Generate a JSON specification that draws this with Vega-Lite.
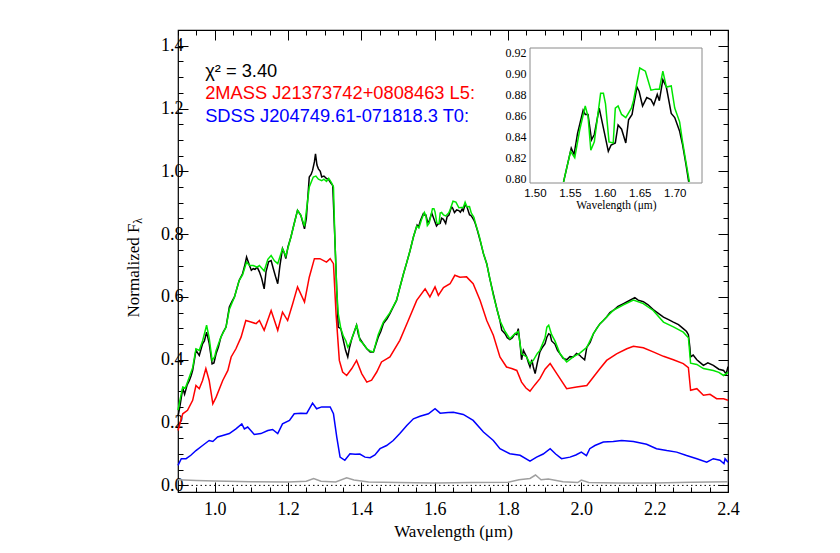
{
"$schema": "https://vega.github.io/schema/vega-lite/v6.json",
"width": 550, "height": 462,
"autosize": {"type": "none"},
"padding": {"left": 178, "top": 30, "right": 112, "bottom": 61},
"background": "white",
"config": {
  "view": {"stroke": "black", "strokeWidth": 1.2},
  "axis": {"grid": false, "domain": false, "labelFont": "Liberation Serif", "labelFontSize": 18, "titleFont": "Liberation Serif", "titleFontSize": 17, "titleFontWeight": "normal", "labelColor": "black", "titleColor": "black", "tickColor": "black", "tickWidth": 1, "labelFlush": false, "labelOverlap": false, "labelBound": false}
},
"datasets": {
"black": [
{"w":0.900,"f":0.22},{"w":0.905,"f":0.25},{"w":0.913,"f":0.31},{"w":0.918,"f":0.29},{"w":0.925,"f":0.32},{"w":0.931,"f":0.334},{"w":0.936,"f":0.35},{"w":0.940,"f":0.366},{"w":0.949,"f":0.43},{"w":0.958,"f":0.414},{"w":0.967,"f":0.451},{"w":0.972,"f":0.46},{"w":0.978,"f":0.488},{"w":0.985,"f":0.452},{"w":0.993,"f":0.387},{"w":0.998,"f":0.39},{"w":1.004,"f":0.42},{"w":1.010,"f":0.44},{"w":1.017,"f":0.472},{"w":1.024,"f":0.49},{"w":1.031,"f":0.504},{"w":1.040,"f":0.568},{"w":1.047,"f":0.585},{"w":1.054,"f":0.6},{"w":1.060,"f":0.625},{"w":1.067,"f":0.653},{"w":1.076,"f":0.674},{"w":1.082,"f":0.7},{"w":1.087,"f":0.727},{"w":1.095,"f":0.7},{"w":1.100,"f":0.685},{"w":1.105,"f":0.69},{"w":1.110,"f":0.688},{"w":1.116,"f":0.695},{"w":1.122,"f":0.68},{"w":1.128,"f":0.66},{"w":1.135,"f":0.626},{"w":1.140,"f":0.68},{"w":1.147,"f":0.712},{"w":1.154,"f":0.716},{"w":1.160,"f":0.69},{"w":1.166,"f":0.665},{"w":1.172,"f":0.642},{"w":1.178,"f":0.7},{"w":1.185,"f":0.754},{"w":1.190,"f":0.74},{"w":1.194,"f":0.722},{"w":1.200,"f":0.76},{"w":1.208,"f":0.791},{"w":1.216,"f":0.83},{"w":1.226,"f":0.876},{"w":1.235,"f":0.86},{"w":1.245,"f":0.817},{"w":1.250,"f":0.85},{"w":1.258,"f":0.982},{"w":1.263,"f":0.99},{"w":1.267,"f":1.003},{"w":1.272,"f":1.03},{"w":1.275,"f":1.056},{"w":1.279,"f":1.02},{"w":1.283,"f":1.008},{"w":1.288,"f":1.0},{"w":1.292,"f":0.982},{"w":1.298,"f":0.985},{"w":1.305,"f":0.977},{"w":1.310,"f":0.975},{"w":1.315,"f":0.966},{"w":1.322,"f":0.955},{"w":1.328,"f":0.78},{"w":1.333,"f":0.62},{"w":1.337,"f":0.504},{"w":1.344,"f":0.499},{"w":1.351,"f":0.462},{"w":1.357,"f":0.43},{"w":1.363,"f":0.409},{"w":1.368,"f":0.44},{"w":1.374,"f":0.467},{"w":1.381,"f":0.49},{"w":1.387,"f":0.51},{"w":1.392,"f":0.48},{"w":1.396,"f":0.467},{"w":1.405,"f":0.451},{"w":1.415,"f":0.435},{"w":1.424,"f":0.425},{"w":1.433,"f":0.425},{"w":1.440,"f":0.45},{"w":1.446,"f":0.472},{"w":1.453,"f":0.49},{"w":1.460,"f":0.515},{"w":1.470,"f":0.53},{"w":1.478,"f":0.547},{"w":1.487,"f":0.568},{"w":1.496,"f":0.589},{"w":1.505,"f":0.63},{"w":1.515,"f":0.674},{"w":1.524,"f":0.71},{"w":1.533,"f":0.748},{"w":1.542,"f":0.791},
{"w":1.552,"f":0.829},{"w":1.556,"f":0.823},{"w":1.561,"f":0.843},{"w":1.569,"f":0.865},{"w":1.572,"f":0.861},{"w":1.576,"f":0.861},{"w":1.581,"f":0.837},{"w":1.585,"f":0.842},{"w":1.592,"f":0.867},{"w":1.599,"f":0.845},{"w":1.605,"f":0.826},{"w":1.609,"f":0.832},{"w":1.615,"f":0.834},{"w":1.619,"f":0.851},{"w":1.624,"f":0.847},{"w":1.630,"f":0.834},{"w":1.634,"f":0.856},{"w":1.639,"f":0.861},{"w":1.641,"f":0.869},{"w":1.646,"f":0.887},{"w":1.649,"f":0.883},{"w":1.654,"f":0.869},{"w":1.660,"f":0.877},{"w":1.666,"f":0.875},{"w":1.670,"f":0.87},{"w":1.675,"f":0.88},{"w":1.678,"f":0.874},{"w":1.683,"f":0.894},{"w":1.688,"f":0.887},{"w":1.695,"f":0.862},{"w":1.700,"f":0.858},{"w":1.707,"f":0.845},{"w":1.711,"f":0.833},{"w":1.716,"f":0.814},{"w":1.720,"f":0.797},{"w":1.724,"f":0.78},{"w":1.733,"f":0.738},{"w":1.742,"f":0.706},{"w":1.750,"f":0.66},{"w":1.760,"f":0.61},{"w":1.770,"f":0.56},{"w":1.778,"f":0.525},{"w":1.783,"f":0.494},{"w":1.792,"f":0.483},{"w":1.798,"f":0.47},{"w":1.805,"f":0.464},{"w":1.812,"f":0.47},{"w":1.819,"f":0.483},{"w":1.824,"f":0.48},{"w":1.828,"f":0.499},{"w":1.833,"f":0.45},{"w":1.837,"f":0.4},{"w":1.842,"f":0.43},{"w":1.851,"f":0.409},{"w":1.856,"f":0.39},{"w":1.860,"f":0.377},{"w":1.865,"f":0.4},{"w":1.869,"f":0.377},{"w":1.874,"f":0.356},{"w":1.880,"f":0.39},{"w":1.887,"f":0.425},{"w":1.894,"f":0.44},{"w":1.901,"f":0.451},{"w":1.906,"f":0.472},{"w":1.911,"f":0.483},{"w":1.915,"f":0.48},{"w":1.919,"f":0.46},{"w":1.928,"f":0.45},{"w":1.935,"f":0.43},{"w":1.942,"f":0.419},{"w":1.950,"f":0.405},{"w":1.960,"f":0.4},{"w":1.969,"f":0.41},{"w":1.978,"f":0.409},{"w":1.987,"f":0.42},{"w":1.995,"f":0.415},{"w":2.000,"f":0.409},{"w":2.009,"f":0.4},{"w":2.015,"f":0.44},{"w":2.024,"f":0.455},{"w":2.033,"f":0.483},{"w":2.042,"f":0.5},{"w":2.051,"f":0.515},{"w":2.060,"f":0.525},{"w":2.069,"f":0.536},{"w":2.078,"f":0.55},{"w":2.087,"f":0.557},{"w":2.100,"f":0.57},{"w":2.115,"f":0.579},{"w":2.130,"f":0.588},{"w":2.146,"f":0.598},{"w":2.155,"f":0.59},{"w":2.169,"f":0.585},{"w":2.182,"f":0.575},{"w":2.196,"f":0.56},{"w":2.210,"f":0.548},{"w":2.224,"f":0.536},{"w":2.238,"f":0.528},{"w":2.251,"f":0.52},{"w":2.265,"f":0.512},{"w":2.278,"f":0.499},{"w":2.287,"f":0.49},{"w":2.292,"f":0.48},{"w":2.296,"f":0.44},{"w":2.298,"f":0.409},{"w":2.305,"f":0.415},{"w":2.315,"f":0.4},{"w":2.325,"f":0.39},{"w":2.333,"f":0.382},{"w":2.345,"f":0.39},{"w":2.360,"f":0.382},{"w":2.375,"f":0.37},{"w":2.388,"f":0.366},{"w":2.395,"f":0.355},{"w":2.400,"f":0.378}
],
"green": [
{"w":0.900,"f":0.24},{"w":0.905,"f":0.27},{"w":0.913,"f":0.313},{"w":0.920,"f":0.31},{"w":0.931,"f":0.345},{"w":0.940,"f":0.375},{"w":0.949,"f":0.435},{"w":0.958,"f":0.43},{"w":0.967,"f":0.46},{"w":0.978,"f":0.51},{"w":0.985,"f":0.47},{"w":0.993,"f":0.398},{"w":1.000,"f":0.41},{"w":1.004,"f":0.43},{"w":1.017,"f":0.472},{"w":1.031,"f":0.504},{"w":1.040,"f":0.56},{"w":1.054,"f":0.6},{"w":1.067,"f":0.653},{"w":1.076,"f":0.67},{"w":1.087,"f":0.711},{"w":1.095,"f":0.7},{"w":1.105,"f":0.7},{"w":1.116,"f":0.695},{"w":1.122,"f":0.7},{"w":1.135,"f":0.683},{"w":1.145,"f":0.72},{"w":1.154,"f":0.732},{"w":1.163,"f":0.715},{"w":1.172,"f":0.706},{"w":1.185,"f":0.754},{"w":1.194,"f":0.73},{"w":1.208,"f":0.791},{"w":1.226,"f":0.876},{"w":1.235,"f":0.86},{"w":1.245,"f":0.825},{"w":1.258,"f":0.95},{"w":1.269,"f":0.982},{"w":1.276,"f":0.985},{"w":1.283,"f":0.975},{"w":1.292,"f":0.97},{"w":1.298,"f":0.975},{"w":1.305,"f":0.968},{"w":1.311,"f":0.978},{"w":1.318,"f":0.965},{"w":1.324,"f":0.95},{"w":1.328,"f":0.78},{"w":1.333,"f":0.62},{"w":1.337,"f":0.547},{"w":1.344,"f":0.5},{"w":1.351,"f":0.475},{"w":1.358,"f":0.46},{"w":1.363,"f":0.44},{"w":1.368,"f":0.45},{"w":1.374,"f":0.467},{"w":1.387,"f":0.51},{"w":1.392,"f":0.49},{"w":1.396,"f":0.462},{"w":1.405,"f":0.451},{"w":1.415,"f":0.435},{"w":1.424,"f":0.428},{"w":1.433,"f":0.425},{"w":1.446,"f":0.48},{"w":1.460,"f":0.52},{"w":1.478,"f":0.55},{"w":1.496,"f":0.59},{"w":1.515,"f":0.674},{"w":1.533,"f":0.748},{"w":1.542,"f":0.791},{"w":1.551,"f":0.826},{"w":1.557,"f":0.82},{"w":1.564,"f":0.846},{"w":1.572,"f":0.869},{"w":1.576,"f":0.859},{"w":1.580,"f":0.827},{"w":1.585,"f":0.835},{"w":1.594,"f":0.881},{"w":1.598,"f":0.881},{"w":1.601,"f":0.871},{"w":1.606,"f":0.835},{"w":1.612,"f":0.834},{"w":1.615,"f":0.867},{"w":1.619,"f":0.869},{"w":1.624,"f":0.861},{"w":1.630,"f":0.858},{"w":1.638,"f":0.867},{"w":1.641,"f":0.874},{"w":1.650,"f":0.905},{"w":1.658,"f":0.902},{"w":1.666,"f":0.884},{"w":1.673,"f":0.885},{"w":1.678,"f":0.885},{"w":1.683,"f":0.902},{"w":1.688,"f":0.887},{"w":1.695,"f":0.888},{"w":1.700,"f":0.867},{"w":1.707,"f":0.854},{"w":1.711,"f":0.836},{"w":1.716,"f":0.816},{"w":1.721,"f":0.797},{"w":1.733,"f":0.738},{"w":1.742,"f":0.706},{"w":1.760,"f":0.605},{"w":1.778,"f":0.525},{"w":1.792,"f":0.49},{"w":1.805,"f":0.467},{"w":1.819,"f":0.483},{"w":1.828,"f":0.49},{"w":1.837,"f":0.419},{"w":1.851,"f":0.409},{"w":1.860,"f":0.387},{"w":1.869,"f":0.398},{"w":1.880,"f":0.42},{"w":1.887,"f":0.43},{"w":1.901,"f":0.47},{"w":1.906,"f":0.504},{"w":1.911,"f":0.51},{"w":1.919,"f":0.48},{"w":1.928,"f":0.46},{"w":1.942,"f":0.419},{"w":1.960,"f":0.393},{"w":1.978,"f":0.409},{"w":1.995,"f":0.42},{"w":2.000,"f":0.425},{"w":2.015,"f":0.44},{"w":2.033,"f":0.483},{"w":2.051,"f":0.515},{"w":2.069,"f":0.536},{"w":2.087,"f":0.557},{"w":2.115,"f":0.575},{"w":2.142,"f":0.59},{"w":2.169,"f":0.579},{"w":2.196,"f":0.557},{"w":2.224,"f":0.52},{"w":2.251,"f":0.505},{"w":2.278,"f":0.488},{"w":2.292,"f":0.47},{"w":2.298,"f":0.389},{"w":2.315,"f":0.385},{"w":2.333,"f":0.372},{"w":2.360,"f":0.366},{"w":2.375,"f":0.36},{"w":2.388,"f":0.35},{"w":2.400,"f":0.36}
],
"red": [
{"w":0.900,"f":0.175},{"w":0.913,"f":0.228},{"w":0.926,"f":0.239},{"w":0.940,"f":0.271},{"w":0.949,"f":0.318},{"w":0.958,"f":0.308},{"w":0.967,"f":0.334},{"w":0.976,"f":0.372},{"w":0.985,"f":0.334},{"w":0.995,"f":0.26},{"w":1.004,"f":0.281},{"w":1.022,"f":0.334},{"w":1.036,"f":0.366},{"w":1.045,"f":0.409},{"w":1.058,"f":0.435},{"w":1.072,"f":0.472},{"w":1.085,"f":0.525},{"w":1.099,"f":0.52},{"w":1.113,"f":0.515},{"w":1.122,"f":0.525},{"w":1.135,"f":0.494},{"w":1.154,"f":0.557},{"w":1.172,"f":0.494},{"w":1.185,"f":0.552},{"w":1.199,"f":0.525},{"w":1.213,"f":0.579},{"w":1.226,"f":0.632},{"w":1.245,"f":0.584},{"w":1.258,"f":0.663},{"w":1.272,"f":0.722},{"w":1.287,"f":0.722},{"w":1.305,"f":0.711},{"w":1.315,"f":0.722},{"w":1.324,"f":0.706},{"w":1.331,"f":0.547},{"w":1.340,"f":0.398},{"w":1.349,"f":0.361},{"w":1.360,"f":0.35},{"w":1.374,"f":0.372},{"w":1.387,"f":0.398},{"w":1.401,"f":0.356},{"w":1.415,"f":0.329},{"w":1.428,"f":0.335},{"w":1.442,"f":0.361},{"w":1.455,"f":0.393},{"w":1.478,"f":0.409},{"w":1.505,"f":0.462},{"w":1.528,"f":0.525},{"w":1.551,"f":0.589},{"w":1.574,"f":0.626},{"w":1.587,"f":0.6},{"w":1.601,"f":0.632},{"w":1.610,"f":0.605},{"w":1.624,"f":0.63},{"w":1.642,"f":0.642},{"w":1.655,"f":0.669},{"w":1.669,"f":0.663},{"w":1.687,"f":0.664},{"w":1.705,"f":0.642},{"w":1.724,"f":0.589},{"w":1.742,"f":0.525},{"w":1.760,"f":0.478},{"w":1.778,"f":0.409},{"w":1.796,"f":0.377},{"w":1.810,"f":0.372},{"w":1.824,"f":0.366},{"w":1.837,"f":0.329},{"w":1.849,"f":0.31},{"w":1.860,"f":0.3},{"w":1.873,"f":0.32},{"w":1.887,"f":0.34},{"w":1.901,"f":0.37},{"w":1.915,"f":0.388},{"w":1.933,"f":0.356},{"w":1.960,"f":0.308},{"w":1.987,"f":0.313},{"w":2.015,"f":0.318},{"w":2.033,"f":0.345},{"w":2.051,"f":0.372},{"w":2.069,"f":0.398},{"w":2.096,"f":0.419},{"w":2.124,"f":0.435},{"w":2.142,"f":0.443},{"w":2.169,"f":0.438},{"w":2.196,"f":0.425},{"w":2.224,"f":0.411},{"w":2.251,"f":0.4},{"w":2.278,"f":0.388},{"w":2.292,"f":0.375},{"w":2.298,"f":0.303},{"w":2.315,"f":0.308},{"w":2.333,"f":0.287},{"w":2.351,"f":0.29},{"w":2.369,"f":0.276},{"w":2.388,"f":0.276},{"w":2.400,"f":0.271}
],
"blue": [
{"w":0.900,"f":0.064},{"w":0.909,"f":0.085},{"w":0.922,"f":0.085},{"w":0.935,"f":0.096},{"w":0.949,"f":0.111},{"w":0.967,"f":0.127},{"w":0.985,"f":0.143},{"w":0.995,"f":0.14},{"w":1.008,"f":0.154},{"w":1.022,"f":0.159},{"w":1.040,"f":0.165},{"w":1.058,"f":0.18},{"w":1.074,"f":0.196},{"w":1.081,"f":0.18},{"w":1.090,"f":0.186},{"w":1.108,"f":0.162},{"w":1.126,"f":0.165},{"w":1.145,"f":0.175},{"w":1.158,"f":0.178},{"w":1.172,"f":0.165},{"w":1.185,"f":0.196},{"w":1.204,"f":0.207},{"w":1.217,"f":0.228},{"w":1.235,"f":0.23},{"w":1.251,"f":0.229},{"w":1.267,"f":0.262},{"w":1.278,"f":0.244},{"w":1.292,"f":0.25},{"w":1.315,"f":0.25},{"w":1.324,"f":0.228},{"w":1.333,"f":0.154},{"w":1.342,"f":0.09},{"w":1.355,"f":0.08},{"w":1.369,"f":0.101},{"w":1.383,"f":0.099},{"w":1.396,"f":0.1},{"w":1.410,"f":0.09},{"w":1.424,"f":0.088},{"w":1.437,"f":0.097},{"w":1.451,"f":0.117},{"w":1.469,"f":0.127},{"w":1.487,"f":0.143},{"w":1.505,"f":0.165},{"w":1.524,"f":0.191},{"w":1.542,"f":0.212},{"w":1.560,"f":0.22},{"w":1.583,"f":0.228},{"w":1.601,"f":0.244},{"w":1.615,"f":0.23},{"w":1.637,"f":0.232},{"w":1.651,"f":0.233},{"w":1.678,"f":0.226},{"w":1.705,"f":0.207},{"w":1.733,"f":0.17},{"w":1.760,"f":0.143},{"w":1.778,"f":0.117},{"w":1.805,"f":0.101},{"w":1.833,"f":0.096},{"w":1.860,"f":0.077},{"w":1.878,"f":0.09},{"w":1.896,"f":0.1},{"w":1.915,"f":0.117},{"w":1.930,"f":0.1},{"w":1.946,"f":0.085},{"w":1.969,"f":0.09},{"w":1.985,"f":0.097},{"w":2.000,"f":0.106},{"w":2.014,"f":0.095},{"w":2.023,"f":0.117},{"w":2.037,"f":0.127},{"w":2.060,"f":0.138},{"w":2.087,"f":0.14},{"w":2.110,"f":0.143},{"w":2.142,"f":0.14},{"w":2.178,"f":0.131},{"w":2.205,"f":0.117},{"w":2.233,"f":0.111},{"w":2.260,"f":0.106},{"w":2.287,"f":0.095},{"w":2.315,"f":0.085},{"w":2.342,"f":0.074},{"w":2.360,"f":0.085},{"w":2.378,"f":0.08},{"w":2.389,"f":0.069},{"w":2.392,"f":0.085},{"w":2.400,"f":0.074}
],
"gray": [
{"w":0.900,"f":0.018},{"w":0.950,"f":0.016},{"w":1.000,"f":0.014},{"w":1.100,"f":0.012},{"w":1.200,"f":0.011},{"w":1.250,"f":0.013},{"w":1.270,"f":0.022},{"w":1.290,"f":0.013},{"w":1.330,"f":0.011},{"w":1.360,"f":0.024},{"w":1.380,"f":0.017},{"w":1.420,"f":0.011},{"w":1.500,"f":0.009},{"w":1.600,"f":0.008},{"w":1.700,"f":0.009},{"w":1.800,"f":0.01},{"w":1.830,"f":0.018},{"w":1.860,"f":0.022},{"w":1.875,"f":0.033},{"w":1.890,"f":0.018},{"w":1.910,"f":0.02},{"w":1.950,"f":0.012},{"w":1.990,"f":0.009},{"w":2.000,"f":0.017},{"w":2.020,"f":0.009},{"w":2.100,"f":0.008},{"w":2.200,"f":0.008},{"w":2.300,"f":0.01},{"w":2.400,"f":0.012}
],
"iblack": [
{"w":1.541,"f":0.797},{"w":1.552,"f":0.829},{"w":1.556,"f":0.823},{"w":1.561,"f":0.843},{"w":1.569,"f":0.865},{"w":1.572,"f":0.861},{"w":1.576,"f":0.861},{"w":1.581,"f":0.837},{"w":1.585,"f":0.842},{"w":1.592,"f":0.867},{"w":1.599,"f":0.845},{"w":1.605,"f":0.826},{"w":1.609,"f":0.832},{"w":1.615,"f":0.834},{"w":1.619,"f":0.851},{"w":1.624,"f":0.847},{"w":1.630,"f":0.834},{"w":1.634,"f":0.856},{"w":1.639,"f":0.861},{"w":1.641,"f":0.869},{"w":1.646,"f":0.887},{"w":1.649,"f":0.883},{"w":1.654,"f":0.869},{"w":1.660,"f":0.877},{"w":1.666,"f":0.875},{"w":1.670,"f":0.87},{"w":1.675,"f":0.88},{"w":1.678,"f":0.874},{"w":1.683,"f":0.894},{"w":1.688,"f":0.887},{"w":1.695,"f":0.862},{"w":1.700,"f":0.858},{"w":1.707,"f":0.845},{"w":1.711,"f":0.833},{"w":1.716,"f":0.814},{"w":1.720,"f":0.797}
],
"igreen": [
{"w":1.541,"f":0.797},{"w":1.551,"f":0.826},{"w":1.557,"f":0.82},{"w":1.564,"f":0.846},{"w":1.572,"f":0.869},{"w":1.576,"f":0.859},{"w":1.580,"f":0.827},{"w":1.585,"f":0.835},{"w":1.594,"f":0.881},{"w":1.598,"f":0.881},{"w":1.601,"f":0.871},{"w":1.606,"f":0.835},{"w":1.612,"f":0.834},{"w":1.615,"f":0.867},{"w":1.619,"f":0.869},{"w":1.624,"f":0.861},{"w":1.630,"f":0.858},{"w":1.638,"f":0.867},{"w":1.641,"f":0.874},{"w":1.650,"f":0.905},{"w":1.658,"f":0.902},{"w":1.666,"f":0.884},{"w":1.673,"f":0.885},{"w":1.678,"f":0.885},{"w":1.683,"f":0.902},{"w":1.688,"f":0.887},{"w":1.695,"f":0.888},{"w":1.700,"f":0.867},{"w":1.707,"f":0.854},{"w":1.711,"f":0.836},{"w":1.716,"f":0.816},{"w":1.721,"f":0.797}
]
},
"resolve": {"scale": {"x": "independent", "y": "independent"}, "axis": {"x": "independent", "y": "independent"}},
"layer": [
{
  "layer": [
    {"data": {"name": "gray"}, "mark": {"type": "line", "stroke": "#a0a0a0", "strokeWidth": 1.5},
     "encoding": {
      "x": {"field": "w", "type": "quantitative", "scale": {"domain": [0.9, 2.4], "nice": false, "zero": false}, "axis": null},
      "y": {"field": "f", "type": "quantitative", "scale": {"domain": [-0.021, 1.45], "nice": false, "zero": false}, "axis": null}
     }},
    {"data": {"name": "black"}, "mark": {"type": "line", "stroke": "#000000", "strokeWidth": 1.5},
     "encoding": {"x": {"field": "w", "type": "quantitative", "axis": null}, "y": {"field": "f", "type": "quantitative", "axis": null}}},
    {"data": {"name": "green"}, "mark": {"type": "line", "stroke": "#00e600", "strokeWidth": 1.5},
     "encoding": {"x": {"field": "w", "type": "quantitative", "axis": null}, "y": {"field": "f", "type": "quantitative", "axis": null}}},
    {"data": {"name": "red"}, "mark": {"type": "line", "stroke": "#ff0000", "strokeWidth": 1.5},
     "encoding": {"x": {"field": "w", "type": "quantitative", "axis": null}, "y": {"field": "f", "type": "quantitative", "axis": null}}},
    {"data": {"name": "blue"}, "mark": {"type": "line", "stroke": "#0000ff", "strokeWidth": 1.5},
     "encoding": {"x": {"field": "w", "type": "quantitative", "axis": null}, "y": {"field": "f", "type": "quantitative", "axis": null}}},
    {"data": {"values": [{}]}, "mark": {"type": "text", "align": "left", "baseline": "alphabetic", "font": "Liberation Sans", "fontSize": 18.3, "color": "black"},
      "encoding": {"x": {"datum": 0.974, "type": "quantitative", "axis": null}, "y": {"datum": 1.3, "type": "quantitative", "axis": null}, "text": {"value": "χ² = 3.40"}}},
    {"data": {"values": [{}]}, "mark": {"type": "text", "align": "left", "baseline": "alphabetic", "font": "Liberation Sans", "fontSize": 18.3, "color": "#ff0000"},
      "encoding": {"x": {"datum": 0.974, "type": "quantitative", "axis": null}, "y": {"datum": 1.229, "type": "quantitative", "axis": null}, "text": {"value": "2MASS J21373742+0808463 L5:"}}},
    {"data": {"values": [{}]}, "mark": {"type": "text", "align": "left", "baseline": "alphabetic", "font": "Liberation Sans", "fontSize": 18.3, "color": "#0000ff"},
      "encoding": {"x": {"datum": 0.974, "type": "quantitative", "axis": null}, "y": {"datum": 1.157, "type": "quantitative", "axis": null}, "text": {"value": "SDSS J204749.61-071818.3 T0:"}}},
    {"data": {"values": [{}]}, "mark": {"type": "text", "align": "center", "baseline": "alphabetic", "font": "Liberation Serif", "fontSize": 12, "angle": 270, "color": "black", "clip": false},
      "encoding": {"x": {"datum": 0.802, "type": "quantitative", "axis": null}, "y": {"datum": 0.842, "type": "quantitative", "axis": null}, "text": {"value": "λ"}}}
  ]
},
{
  "data": {"values": [{}]},
  "mark": {"type": "rule", "stroke": "black", "strokeWidth": 1, "strokeDash": [1.5, 3]},
  "encoding": {
    "x": {"datum": 0.9, "type": "quantitative", "scale": {"domain": [0.9, 2.4], "nice": false, "zero": false},
      "axis": {"orient": "bottom", "title": "Wavelength (μm)", "titlePadding": 0,
        "values": [0.9,0.95,1.0,1.05,1.1,1.15,1.2,1.25,1.3,1.35,1.4,1.45,1.5,1.55,1.6,1.65,1.7,1.75,1.8,1.85,1.9,1.95,2.0,2.05,2.1,2.15,2.2,2.25,2.3,2.35,2.4],
        "labelExpr": "abs(datum.value*5-round(datum.value*5))<0.001 ? format(datum.value,'.1f') : ''",
        "tickSize": {"condition": {"test": "abs(datum.value*5-round(datum.value*5))<0.001", "value": -10}, "value": -5},
        "labelPadding": 18}},
    "x2": {"datum": 2.4},
    "y": {"datum": 0, "type": "quantitative", "scale": {"domain": [-0.021, 1.45], "nice": false, "zero": false},
      "axis": {"orient": "left", "title": "Normalized F", "titleX": -40, "titleY": 240, "titleAngle": 270, "titleAlign": "center", "titleBaseline": "alphabetic",
        "values": [0,0.05,0.1,0.15,0.2,0.25,0.3,0.35,0.4,0.45,0.5,0.55,0.6,0.65,0.7,0.75,0.8,0.85,0.9,0.95,1.0,1.05,1.1,1.15,1.2,1.25,1.3,1.35,1.4,1.45],
        "labelExpr": "abs(datum.value*5-round(datum.value*5))<0.001 ? format(datum.value,'.1f') : ''",
        "tickSize": {"condition": {"test": "abs(datum.value*5-round(datum.value*5))<0.001", "value": -10}, "value": -5},
        "labelPadding": 5}}
  }
},
{
  "data": {"values": [{}]},
  "mark": {"type": "rule", "stroke": "black", "opacity": 0},
  "encoding": {
    "x": {"datum": 0.9, "type": "quantitative", "scale": {"domain": [0.9, 2.4], "nice": false, "zero": false},
      "axis": {"orient": "top", "title": null, "labels": false,
        "values": [0.9,0.95,1.0,1.05,1.1,1.15,1.2,1.25,1.3,1.35,1.4,1.45,1.5,1.55,1.6,1.65,1.7,1.75,1.8,1.85,1.9,1.95,2.0,2.05,2.1,2.15,2.2,2.25,2.3,2.35,2.4],
        "tickSize": {"condition": {"test": "abs(datum.value*5-round(datum.value*5))<0.001", "value": -10}, "value": -5}}},
    "x2": {"datum": 2.4},
    "y": {"datum": 0, "type": "quantitative", "scale": {"domain": [-0.021, 1.45], "nice": false, "zero": false},
      "axis": {"orient": "right", "title": null, "labels": false,
        "values": [0,0.05,0.1,0.15,0.2,0.25,0.3,0.35,0.4,0.45,0.5,0.55,0.6,0.65,0.7,0.75,0.8,0.85,0.9,0.95,1.0,1.05,1.1,1.15,1.2,1.25,1.3,1.35,1.4,1.45],
        "tickSize": {"condition": {"test": "abs(datum.value*5-round(datum.value*5))<0.001", "value": -10}, "value": -5}}}
  }
},
{
  "layer": [
    {"data": {"name": "iblack"}, "mark": {"type": "line", "stroke": "#000000", "strokeWidth": 1.5},
     "encoding": {
      "x": {"field": "w", "type": "quantitative", "scale": {"domain": [1.493, 1.739], "range": [352, 524], "nice": false, "zero": false},
        "axis": {"orient": "bottom", "offset": -309, "values": [1.5, 1.55, 1.6, 1.65, 1.7], "format": ".2f", "ticks": false, "labelFont": "Liberation Sans", "labelFontSize": 11.5, "labelPadding": 4, "title": "Wavelength (μm)", "titleFontSize": 11.5, "titlePadding": 1}},
      "y": {"field": "f", "type": "quantitative", "scale": {"domain": [0.796, 0.924], "range": [153, 18], "nice": false, "zero": false},
        "axis": {"orient": "left", "offset": -352, "values": [0.8, 0.82, 0.84, 0.86, 0.88, 0.9, 0.92], "format": ".2f", "ticks": false, "labelFontSize": 12, "labelPadding": 4, "title": null}}
     }},
    {"data": {"name": "igreen"}, "mark": {"type": "line", "stroke": "#00e600", "strokeWidth": 1.5},
     "encoding": {"x": {"field": "w", "type": "quantitative", "title": "Wavelength (μm)"}, "y": {"field": "f", "type": "quantitative", "title": null}}},
    {"data": {"values": [{}]}, "mark": {"type": "rect", "filled": false, "stroke": "#8a8a8a", "strokeWidth": 1},
      "encoding": {"x": {"datum": 1.493, "type": "quantitative"}, "x2": {"datum": 1.739}, "y": {"datum": 0.796, "type": "quantitative"}, "y2": {"datum": 0.924}}}
  ]
}
]
}
